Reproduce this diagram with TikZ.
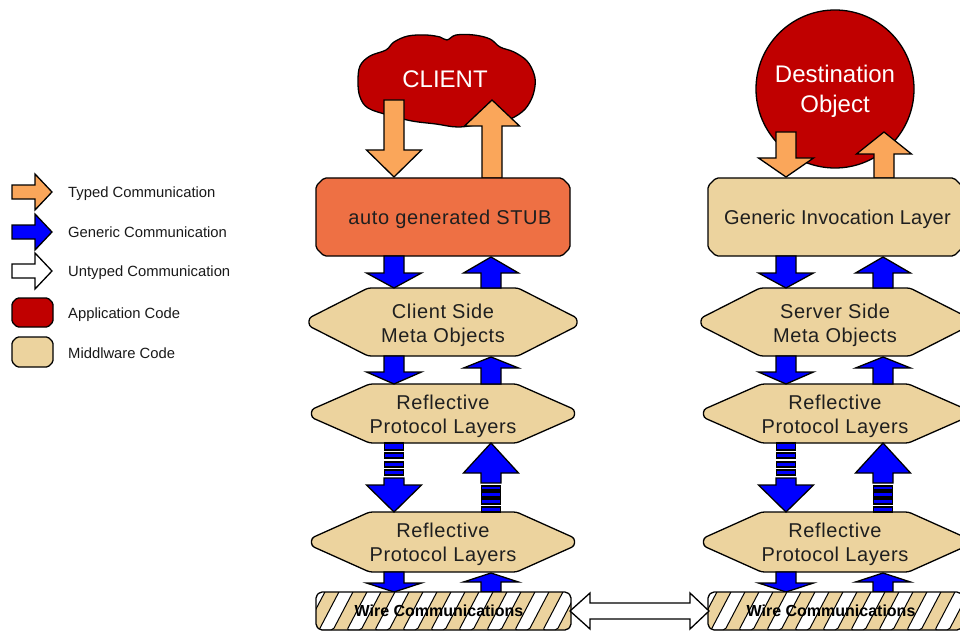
\documentclass[tikz,border=0pt]{standalone}
\usepackage{fontspec}
\setmainfont{Liberation Sans}
\newfontfamily\spacedsans[LetterSpace=3]{Liberation Sans}
\newfontfamily\lightspaced[LetterSpace=1]{Liberation Sans}

\definecolor{appred}{RGB}{192,0,0}
\definecolor{stubfill}{RGB}{238,112,68}
\definecolor{midtan}{RGB}{236,211,158}
\definecolor{typedorange}{RGB}{250,166,90}
\definecolor{genblue}{RGB}{0,0,255}

% vertical block arrow: style, x, tail y, head-base y, tip y
\newcommand\varrow[5]{\filldraw[#1] (#2-10,#3) -- (#2+10,#3) -- (#2+10,#4) -- (#2+27.5,#4) -- (#2,#5) -- (#2-27.5,#4) -- (#2-10,#4) -- cycle;}
% one stripe of a broken shaft: x, top y, bottom y
\newcommand\vbar[3]{\filldraw[gen] (#1-9.5,#2) rectangle (#1+9.5,#3);}
% horizontal legend arrow: style, tail x, centre y
\newcommand\harrow[3]{\filldraw[#1] (#2,#3-7) -- (#2+23,#3-7) -- (#2+23,#3-18) -- (#2+40,#3) -- (#2+23,#3+18) -- (#2+23,#3+7) -- (#2,#3+7) -- cycle;}
% box with cut corners: style, left, top, right, bottom, cut
\newcommand\cutbox[6]{\filldraw[#1] (#2+#6,#3) -- (#4-#6,#3) -- (#4,#3+#6) -- (#4,#5-#6) -- (#4-#6,#5) -- (#2+#6,#5) -- (#2,#5-#6) -- (#2,#3+#6) -- cycle;}
% middleware hexagon: centre x, top y, bottom y, half top edge, half width at tips
\newcommand\hexshape[5]{\filldraw[mw, rounded corners=3pt] (#1-#4,#2) -- (#1+#4,#2) -- (#1+#5,{(#2+#3)/2-4}) -- (#1+#5,{(#2+#3)/2+4}) -- (#1+#4,#3) -- (#1-#4,#3) -- (#1-#5,{(#2+#3)/2+4}) -- (#1-#5,{(#2+#3)/2-4}) -- cycle;}

\begin{document}
\begin{tikzpicture}[x=1pt, y=-1pt, line join=miter,
  outl/.style={draw=black, line width=1.3pt},
  typed/.style={outl, fill=typedorange},
  gen/.style={outl, fill=genblue},
  untyped/.style={outl, fill=white},
  mw/.style={outl, fill=midtan},
  app/.style={outl, fill=appred},
  layertxt/.style={font=\spacedsans\fontsize{20}{24}\selectfont, text=black!88, anchor=base, inner sep=0pt},
  hexlabel/.style={font=\spacedsans\fontsize{20}{24}\selectfont, align=center, text=black!88},
  legendtxt/.style={font=\fontsize{14.8}{17}\selectfont, anchor=base west, inner sep=0pt, text=black!90},
  hatched/.style={mw, rounded corners=2pt,
    path picture={
      \foreach \k in {-2,...,10}
        \filldraw[fill=white, draw=black, line width=1pt]
          ([xshift={\k*28pt+3pt}]path picture bounding box.south west)
          -- ++(14,0) -- ++(22,-42) -- ++(-14,0) -- cycle;
    }},
  wiretxt/.style={font=\fontsize{16}{19}\bfseries\selectfont, text=black}]
\useasboundingbox (0,0) rectangle (960,631);
\clip (0,0) rectangle (960,631);

% ---------------- legend ----------------
\harrow{typed}{12}{192}
\harrow{gen}{12}{232}
\harrow{untyped}{12}{271}
\cutbox{app, rounded corners=1.5pt}{12}{298}{53}{327}{5}
\cutbox{mw, rounded corners=1.5pt}{12}{337}{53}{367}{5}
\node[legendtxt] (legtyped) at (68,197) {Typed Communication};
\node[legendtxt] (leggen) at (68,237) {Generic Communication};
\node[legendtxt] (leguntyped) at (68,276) {Untyped Communication};
\node[legendtxt] (legapptxt) at (68,318) {Application Code};
\node[legendtxt] (legmwtxt) at (68,358) {Middlware Code};

% ---------------- application code ----------------
\filldraw[app] plot[smooth cycle, tension=0.6] coordinates {
  (358,82) (360,66) (370,56) (386,50) (394,42) (408,36) (426,35) (440,37) (447,40)
  (456,35) (474,35) (490,39) (500,47) (514,52) (527,61) (534,74) (535,86) (531,100)
  (522,112) (505,121) (482,124) (458,127) (436,124) (412,121) (388,115) (368,108) (360,97)};
\node[font=\fontsize{24}{29}\selectfont, text=white, anchor=base] (client) at (445,88) {CLIENT};

\node[app, circle, minimum size=158pt, inner sep=0pt] (destcircle) at (835,89) {};
\node[font=\fontsize{24}{30}\selectfont, text=white, align=center] (dest) at (835,91) {Destination\\Object};

% ---------------- typed communication ----------------
\varrow{typed}{394}{100}{150}{177}
\varrow{typed}{492}{178}{126}{100}
\varrow{typed}{786}{132}{158}{177}
\varrow{typed}{884}{178}{154}{132}

% ---------------- top layers ----------------
\cutbox{outl, fill=stubfill, rounded corners=2pt}{316}{178}{570}{256}{8}
\node[layertxt] (stubtxt) at (450,224) {auto generated STUB};
\cutbox{mw, rounded corners=2pt}{708}{178}{962}{256}{8}
\node[layertxt, font=\lightspaced\fontsize{20}{24}\selectfont, anchor=base west] (giltxt) at (724,224) {Generic Invocation Layer};

% ---------------- middleware hexagons ----------------
\hexshape{443}{288}{356}{75}{134}
\hexshape{443}{384}{443}{73.5}{131.5}
\hexshape{443}{512}{572}{73.5}{131.5}
\hexshape{835}{288}{356}{75}{134}
\hexshape{835}{384}{443}{73.5}{131.5}
\hexshape{835}{512}{572}{73.5}{131.5}
\node[hexlabel] (metaL) at (443,325) {Client Side\\Meta Objects};
\node[hexlabel] (reflL1) at (443,416) {Reflective\\Protocol Layers};
\node[hexlabel] (reflL2) at (443,544) {Reflective\\Protocol Layers};
\node[hexlabel] (metaR) at (835,325) {Server Side\\Meta Objects};
\node[hexlabel] (reflR1) at (835,416) {Reflective\\Protocol Layers};
\node[hexlabel] (reflR2) at (835,544) {Reflective\\Protocol Layers};

% ---------------- generic communication ----------------
\foreach \dx in {0,392} {
  \pgfmathsetmacro\xd{394+\dx}
  \pgfmathsetmacro\xu{491+\dx}
  \varrow{gen}{\xd}{256}{273}{288}
  \varrow{gen}{\xu}{288}{273}{257}
  \varrow{gen}{\xd}{356}{372}{384}
  \varrow{gen}{\xu}{384}{368}{357}
  % broken shafts between the protocol layers
  \vbar{\xd}{443}{450}
  \vbar{\xd}{453}{458}
  \vbar{\xd}{462}{467}
  \vbar{\xd}{470}{475}
  \varrow{gen}{\xd}{478}{485}{512}
  \varrow{gen}{\xu}{483}{473}{443}
  \vbar{\xu}{486}{490}
  \vbar{\xu}{492}{497}
  \vbar{\xu}{499}{504}
  \vbar{\xu}{507}{512}
  \varrow{gen}{\xd}{572}{583}{592}
  \varrow{gen}{\xu}{592}{582}{573}
}

% ---------------- wire ----------------
\cutbox{hatched}{316}{592}{571}{630}{4}
\cutbox{hatched}{708}{592}{963}{630}{4}
\coordinate (wireLend) at (570,611);
\coordinate (wireRend) at (709,611);
\node[wiretxt] (wireLtxt) at (439,611) {Wire Communications};
\node[wiretxt] (wireRtxt) at (831,611) {Wire Communications};
\filldraw[untyped] (wireLend) -- (590,593) -- (590,603) -- (690,603) -- (690,593) -- (wireRend)
  -- (690,629) -- (690,619) -- (590,619) -- (590,629) -- cycle;
\end{tikzpicture}
\end{document}
